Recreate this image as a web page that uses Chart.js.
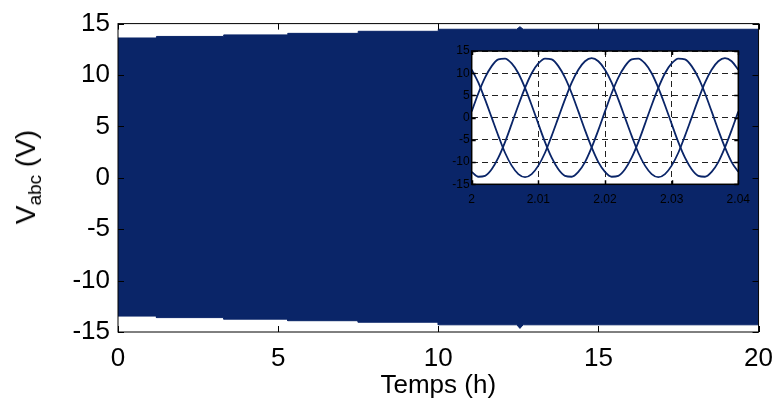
<!DOCTYPE html>
<html lang="fr">

<head>
    <meta charset="UTF-8">
    <script src="https://cdn.jsdelivr.net/npm/chart.js"></script>
    <title>Vabc</title>
    <style>
        body { margin: 0; background: #fff; }
        .figure { position: relative; width: 784px; height: 412px; }
        #mainChart { position: absolute; left: 0; top: 0; }
        .inset { position: absolute; left: 440px; top: 38px; width: 320px; height: 180px; }
        .ylabel {
            position: absolute; left: 26px; top: 177px;
            transform: translate(-50%, -50%) rotate(-90deg);
            font-family: Arial, "Liberation Sans", Helvetica, sans-serif;
            font-size: 28px; line-height: 1; white-space: nowrap; color: #000;
        }
        .ylabel sub { font-size: 19px; line-height: 0; vertical-align: -0.3em; }
    </style>
</head>

<body>
    <div class="figure">
        <canvas id="mainChart" width="784" height="412"></canvas>
        <div class="ylabel">V<sub>abc</sub> (V)</div>
        <div class="inset">
            <canvas id="insetChart" width="320" height="180"></canvas>
        </div>
    </div>
</body>

</html>

<script>

    // envelope of the three phase voltages over 20 h (the band is too dense to draw each cycle)
    const bandHours = [0, 1.2, 1.2, 3.3, 3.3, 5.3, 5.3, 7.5, 7.5, 10, 10, 12.45, 12.55, 12.65, 20];
    const bandUpper = [13.6, 13.6, 13.75, 13.75, 13.9, 13.9, 14.05, 14.05, 14.25, 14.25, 14.45, 14.45, 14.7, 14.45, 14.45];
    const bandLower = [-13.45, -13.45, -13.6, -13.6, -13.75, -13.75, -13.9, -13.9, -14.05, -14.05, -14.3, -14.3, -14.65, -14.3, -14.3];

    const mainXTicks = [0, 5, 10, 15, 20];
    const mainYTicks = [-15, -10, -5, 0, 5, 10, 15];

    // zoom: 2 s to 2.04 s
    const insetTime = [2, 2.001, 2.002, 2.003, 2.004, 2.005, 2.006, 2.007, 2.008, 2.009,
        2.01, 2.011, 2.012, 2.013, 2.014, 2.015, 2.016, 2.017, 2.018, 2.019,
        2.02, 2.021, 2.022, 2.023, 2.024, 2.025, 2.026, 2.027, 2.028, 2.029,
        2.03, 2.031, 2.032, 2.033, 2.034, 2.035, 2.036, 2.037, 2.038, 2.039, 2.04];
    const phaseA = [1.4, 5.5, 9.0, 11.6, 13.1, 13.3, 12.2, 10.0, 6.7, 2.8,
        -1.4, -5.5, -9.0, -11.6, -13.1, -13.3, -12.2, -10.0, -6.7, -2.8,
        1.4, 5.5, 9.0, 11.6, 13.1, 13.3, 12.2, 10.0, 6.7, 2.8,
        -1.4, -5.5, -9.0, -11.6, -13.1, -13.3, -12.2, -10.0, -6.7, -2.8, 1.4];
    const phaseB = [10.8, 7.9, 4.1, 0, -4.1, -7.9, -10.8, -12.7, -13.4, -12.7,
        -10.8, -7.9, -4.1, 0, 4.1, 7.9, 10.8, 12.7, 13.4, 12.7,
        10.8, 7.9, 4.1, 0, -4.1, -7.9, -10.8, -12.7, -13.4, -12.7,
        -10.8, -7.9, -4.1, 0, 4.1, 7.9, 10.8, 12.7, 13.4, 12.7, 10.8];
    const phaseC = [-12.2, -13.3, -13.1, -11.6, -9.0, -5.5, -1.4, 2.8, 6.7, 10.0,
        12.2, 13.3, 13.1, 11.6, 9.0, 5.5, 1.4, -2.8, -6.7, -10.0,
        -12.2, -13.3, -13.1, -11.6, -9.0, -5.5, -1.4, 2.8, 6.7, 10.0,
        12.2, 13.3, 13.1, 11.6, 9.0, 5.5, 1.4, -2.8, -6.7, -10.0, -12.2];

    const insetXTicks = [2, 2.01, 2.02, 2.03, 2.04];
    const insetYTicks = [-15, -10, -5, 0, 5, 10, 15];

    const navy = 'rgb(10, 37, 104)';
    Chart.defaults.font.family = 'Arial, "Liberation Sans", Helvetica, sans-serif';
    Chart.defaults.color = '#000';

    function pts(xs, ys) {
        return xs.map((x, i) => ({ x: x, y: ys[i] }));
    }

    // matlab style box with inward ticks
    const boxPlugin = {
        id: 'box',
        beforeDraw(chart, args, opts) {
            if (!opts.fill) return;
            const a = chart.chartArea;
            chart.ctx.save();
            chart.ctx.fillStyle = opts.fill;
            chart.ctx.fillRect(a.left, a.top, a.right - a.left, a.bottom - a.top);
            chart.ctx.restore();
        },
        afterDraw(chart, args, opts) {
            const ctx = chart.ctx;
            const a = chart.chartArea;
            const sx = chart.scales.x, sy = chart.scales.y;
            const len = opts.tick;
            ctx.save();
            ctx.strokeStyle = '#000';
            ctx.lineWidth = opts.width;
            ctx.beginPath();
            opts.xTicks.forEach(v => {
                const px = Math.round(sx.getPixelForValue(v)) + 0.5;
                ctx.moveTo(px, a.bottom); ctx.lineTo(px, a.bottom - len);
                ctx.moveTo(px, a.top); ctx.lineTo(px, a.top + len);
            });
            opts.yTicks.forEach(v => {
                const py = Math.round(sy.getPixelForValue(v)) + 0.5;
                ctx.moveTo(a.left, py); ctx.lineTo(a.left + len, py);
                ctx.moveTo(a.right, py); ctx.lineTo(a.right - len, py);
            });
            ctx.stroke();
            ctx.strokeRect(a.left, a.top, a.right - a.left, a.bottom - a.top);
            ctx.restore();
        }
    };

    new Chart(document.getElementById('mainChart'), {
        type: 'line',
        data: {
            datasets: [{
                data: pts(bandHours, bandUpper),
                borderColor: navy,
                borderWidth: 1,
                backgroundColor: navy,
                pointRadius: 0,
                fill: false
            }, {
                data: pts(bandHours, bandLower),
                borderColor: navy,
                borderWidth: 1,
                backgroundColor: navy,
                pointRadius: 0,
                fill: '-1'
            }]
        },
        options: {
            responsive: false,
            animation: false,
            devicePixelRatio: 1,
            events: [],
            layout: { padding: { top: 22, right: 20, left: 0, bottom: 0 } },
            plugins: {
                legend: { display: false },
                tooltip: { enabled: false },
                box: { tick: 6, width: 1, xTicks: mainXTicks, yTicks: mainYTicks }
            },
            scales: {
                x: {
                    type: 'linear', min: 0, max: 20,
                    afterBuildTicks: s => { s.ticks = mainXTicks.map(v => ({ value: v })); },
                    afterFit: s => { s.height = 80; },
                    ticks: { font: { size: 26 }, padding: 11, maxRotation: 0, autoSkip: false },
                    grid: { display: false, drawTicks: false },
                    border: { display: false },
                    title: { display: true, text: 'Temps (h)', font: { size: 26 }, padding: { top: 0, bottom: 11 } }
                },
                y: {
                    min: -15, max: 15,
                    afterBuildTicks: s => { s.ticks = mainYTicks.map(v => ({ value: v })); },
                    afterFit: s => { s.width = 118; },
                    ticks: { font: { size: 26 }, padding: 8 },
                    grid: { display: false, drawTicks: false },
                    border: { display: false }
                }
            }
        },
        plugins: [boxPlugin]
    });

    const phaseStyle = {
        borderColor: navy,
        borderWidth: 1.8,
        pointRadius: 0,
        fill: false,
        cubicInterpolationMode: 'monotone'
    };

    new Chart(document.getElementById('insetChart'), {
        type: 'line',
        data: {
            datasets: [
                Object.assign({ data: pts(insetTime, phaseA) }, phaseStyle),
                Object.assign({ data: pts(insetTime, phaseB) }, phaseStyle),
                Object.assign({ data: pts(insetTime, phaseC) }, phaseStyle)
            ]
        },
        options: {
            responsive: false,
            animation: false,
            devicePixelRatio: 1,
            events: [],
            layout: { padding: { top: 13, right: 21.7, left: 0, bottom: 0 } },
            plugins: {
                legend: { display: false },
                tooltip: { enabled: false },
                box: { fill: '#fff', tick: 4, width: 1.5, xTicks: insetXTicks, yTicks: insetYTicks }
            },
            scales: {
                x: {
                    type: 'linear', min: 2, max: 2.04,
                    afterBuildTicks: s => { s.ticks = insetXTicks.map(v => ({ value: v })); },
                    afterFit: s => { s.height = 33.7; },
                    ticks: { font: { size: 12 }, padding: 8, maxRotation: 0, autoSkip: false,
                        callback: v => String(+v.toFixed(2)) },
                    grid: { color: '#222', lineWidth: 1, drawTicks: false },
                    border: { display: false, dash: [6, 4] }
                },
                y: {
                    min: -15, max: 15,
                    afterBuildTicks: s => { s.ticks = insetYTicks.map(v => ({ value: v })); },
                    afterFit: s => { s.width = 31.7; },
                    ticks: { font: { size: 12 }, padding: 2 },
                    grid: { color: '#222', lineWidth: 1, drawTicks: false },
                    border: { display: false, dash: [6, 4] }
                }
            }
        },
        plugins: [boxPlugin]
    });

</script>
